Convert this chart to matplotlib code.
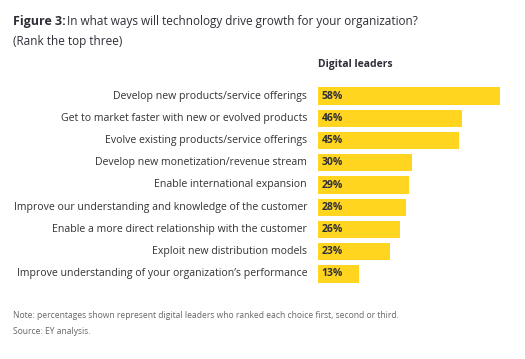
import matplotlib.pyplot as plt

# dane wykresu
kategorie = [
    "Develop new products/service offerings",
    "Get to market faster with new or evolved products",
    "Evolve existing products/service offerings",
    "Develop new monetization/revenue stream",
    "Enable international expansion",
    "Improve our understanding and knowledge of the customer",
    "Enable a more direct relationship with the customer",
    "Exploit new distribution models",
    "Improve understanding of your organization\u2019s performance",
]
wartosci = [58, 46, 45, 30, 29, 28, 26, 23, 13]

plt.rcParams['font.family'] = ['Open Sans', 'DejaVu Sans']

W, H = 525, 359
fig = plt.figure(figsize=(W / 100, H / 100), dpi=100)

# osie ustawione w pikselach referencji
x0, x1 = 318, 318 + 60 * 3.138
y_top, y_bot = 96 - 11.1, 274 + 11.1
ax = fig.add_axes([x0 / W, 1 - y_bot / H, (x1 - x0) / W, (y_bot - y_top) / H])

pozycje = list(range(len(kategorie)))
ax.barh(pozycje, wartosci, height=0.78, color='#FFD520')
ax.set_xlim(0, 60)
ax.set_ylim(len(kategorie) - 0.5, -0.5)
ax.axis('off')

for p, k, v in zip(pozycje, kategorie, wartosci):
    ax.text(1.2, p, f"{v}%", va='center', ha='left', fontsize=7.5,
            fontweight='bold', color='#2e2e38')
    ax.text(-3.5, p, k, va='center', ha='right', fontsize=7.55, color='#333333')

fig.text(13 / W, 1 - 22 / H, "Figure 3:", fontsize=9, fontweight='bold',
         color='#2e2e38', va='center', ha='left')
fig.text(67 / W, 1 - 22 / H, "In what ways will technology drive growth for your organization?",
         fontsize=8.5, color='#2e2e38', va='center', ha='left')
fig.text(13 / W, 1 - 41 / H, "(Rank the top three)", fontsize=8.5,
         color='#2e2e38', va='center', ha='left')
fig.text(318 / W, 1 - 65 / H, "Digital leaders", fontsize=7.5,
         fontweight='bold', color='#2e2e38', va='center', ha='left')
fig.text(13 / W, 1 - 316 / H,
         "Note: percentages shown represent digital leaders who ranked each choice first, second or third.",
         fontsize=6.15, color='#666666', va='center', ha='left')
fig.text(13 / W, 1 - 331 / H, "Source: EY analysis.", fontsize=6.15,
         color='#666666', va='center', ha='left')

fig.savefig('out.png', dpi=100)
